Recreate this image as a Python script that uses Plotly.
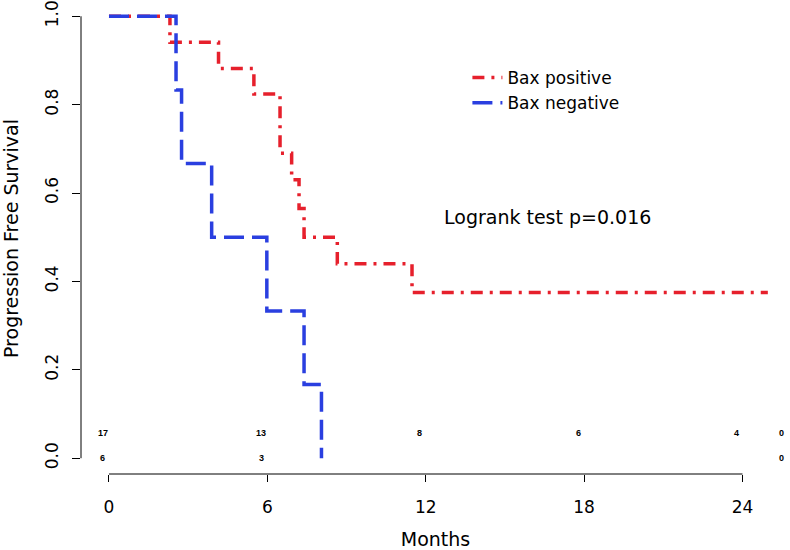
import plotly.graph_objects as go

# Kaplan-Meier steps (months, survival)
pos_time = [0, 2.31, 4.15, 5.49, 6.48, 6.92, 7.2, 7.39, 8.65, 11.48, 24.96]
pos_surv = [1.0, 0.941, 0.882, 0.824, 0.69, 0.63, 0.565, 0.5, 0.44, 0.375, 0.375]
neg_time = [0, 2.54, 2.75, 3.89, 5.98, 7.39, 8.05]
neg_surv = [1.0, 0.833, 0.667, 0.5, 0.333, 0.167, 0.0]

# numbers at risk printed under the curves
risk_time_pos = [0, 6, 12, 18, 24, 25.7]
risk_pos = ["17", "13", "8", "6", "4", "0"]
risk_time_neg = [0, 6, 25.7]
risk_neg = ["6", "3", "0"]

x_ticks = [0, 6, 12, 18, 24]
y_ticks = [0.0, 0.2, 0.4, 0.6, 0.8, 1.0]

RED = "#E6202C"
BLUE = "#2A3FE0"
FONT = "DejaVu Sans"

fig = go.Figure()
fig.add_trace(go.Scatter(x=pos_time, y=pos_surv, mode="lines", name="Bax positive",
                         line=dict(color=RED, width=3.5, shape="hv", dash="12px,7px,3px,7px")))
fig.add_trace(go.Scatter(x=neg_time, y=neg_surv, mode="lines", name="Bax negative",
                         line=dict(color=BLUE, width=3.5, shape="hv", dash="20px,8px")))

# at-risk counts
for t, n in zip(risk_time_pos, risk_pos):
    fig.add_annotation(x=t, y=0.058, text=n, showarrow=False, xshift=-6,
                       font=dict(family="Liberation Sans", size=9, color="black", weight="bold"))
for t, n in zip(risk_time_neg, risk_neg):
    fig.add_annotation(x=t, y=0.0, text=n, showarrow=False, xshift=-6,
                       font=dict(family="Liberation Sans", size=9, color="black", weight="bold"))

fig.add_annotation(x=16.6, y=0.546, text="Logrank test p=0.016", showarrow=False,
                   font=dict(family=FONT, size=19, color="black"))

# R style axis lines only spanning the ticks
fig.add_shape(type="line", xref="x", yref="paper", x0=x_ticks[0], x1=x_ticks[-1], y0=0, y1=0,
              line=dict(color="black", width=1))
fig.add_shape(type="line", xref="paper", yref="y", x0=0, x1=0, y0=y_ticks[0], y1=y_ticks[-1],
              line=dict(color="black", width=1))

fig.update_layout(
    width=790, height=550,
    margin=dict(l=81, r=0, t=0, b=72),
    paper_bgcolor="white", plot_bgcolor="white",
    font=dict(family=FONT, size=17, color="black"),
    showlegend=True,
    legend=dict(x=0.545, y=0.879, xanchor="left", yanchor="top", bgcolor="rgba(0,0,0,0)",
                font=dict(size=17), itemwidth=30),
    xaxis=dict(range=[-1.06, 25.8], tickvals=x_ticks, ticktext=[str(v) for v in x_ticks],
               ticks="outside", ticklen=7, tickcolor="black", showgrid=False, zeroline=False,
               showline=False, ticklabelstandoff=11,
               title=dict(text="Months", font=dict(size=19), standoff=19)),
    yaxis=dict(range=[-0.0357, 1.030], tickvals=y_ticks, ticktext=["%.1f" % v for v in y_ticks],
               ticks="outside", ticklen=8, tickcolor="black", showgrid=False, zeroline=False,
               showline=False, tickangle=-90, ticklabelstandoff=7, ticklabeloverflow="allow",
               title=dict(text="Progression Free Survival", font=dict(size=19), standoff=24)),
)

fig.write_html("out.html", config={"displayModeBar": False},
               post_script="document.body.style.margin='0';")
